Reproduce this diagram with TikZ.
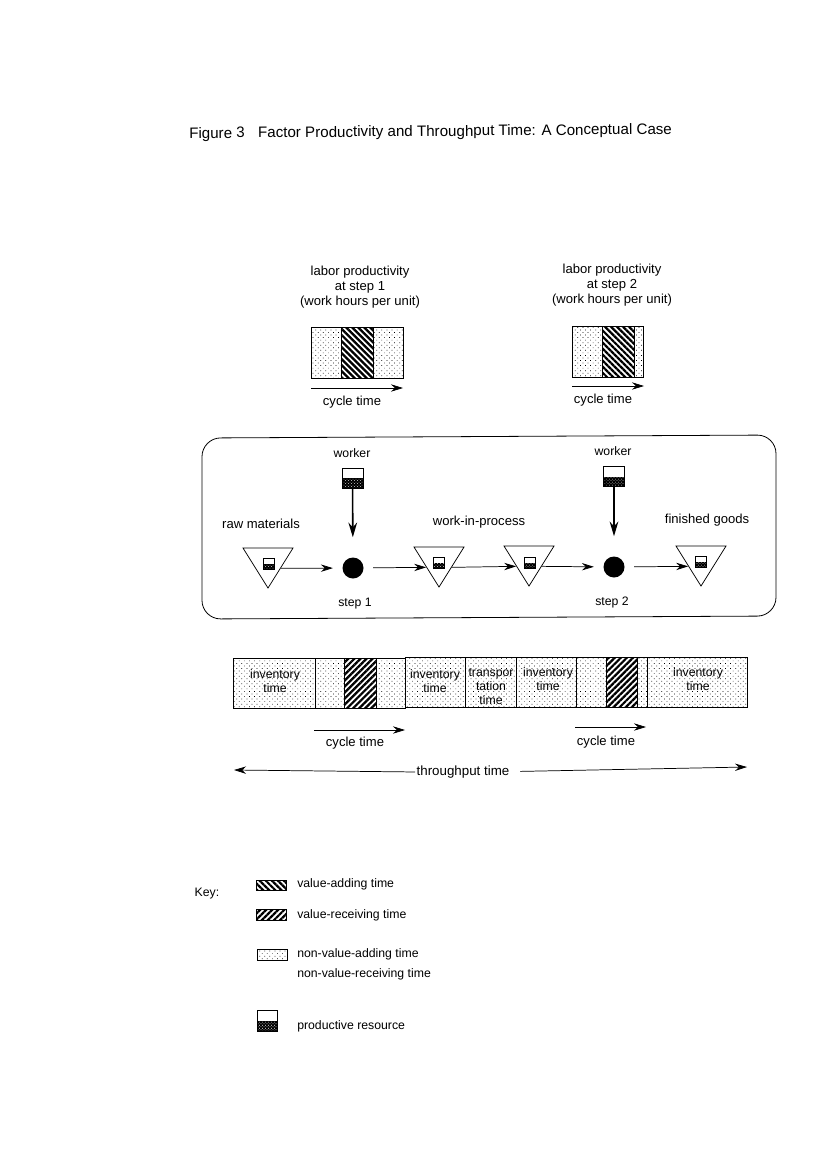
\documentclass[tikz,border=0pt]{standalone}
\usepackage{fontspec}
\setmainfont{Liberation Sans}
\usetikzlibrary{arrows.meta,patterns.meta,shapes.geometric}
\tikzset{
  every node/.style={font=\fontsize{9.2}{10.8}\selectfont, align=center},
  wide/.style={font=\fontsize{9.8}{11}\selectfont},
  flow/.style={-{Stealth[length=9pt,width=5.5pt]}, line width=.55pt},
  feed/.style={-{Stealth[length=11pt,width=6.5pt]}, line width=1.2pt, shorten >=15pt},
  idle/.style={draw, line width=.7pt, pattern={Dots[radius=.38pt,distance=2.7pt,angle=45]}},
  adding/.style={draw, line width=.7pt, pattern={Lines[angle=-45,distance=3.2pt,line width=1.7pt]}},
  receiving/.style={draw, line width=.7pt, pattern={Lines[angle=45,distance=3.2pt,line width=1.7pt]}},
  resource/.style={draw, inner sep=0pt, line width=.7pt, path picture={
      \fill[black] (path picture bounding box.west) rectangle (path picture bounding box.south east);
      \fill[white, pattern color=white, pattern={Dots[radius=.35pt,distance=1.6pt,angle=45]}]
        (path picture bounding box.west) rectangle (path picture bounding box.south east);}},
  bigres/.style={resource, minimum width=15.75pt, minimum height=15pt},
  smallres/.style={resource, minimum width=8.25pt, minimum height=8.25pt},
  stock/.style={draw, shape=isosceles triangle, isosceles triangle stretches, shape border rotate=-90,
      anchor=apex, inner sep=0pt, minimum width=37.5pt, minimum height=30pt, line width=.55pt},
  stepdot/.style={circle, fill=black, inner sep=0pt, minimum size=15.75pt},
}
\begin{document}
\begin{tikzpicture}[x=.75pt, y=-.75pt]
  \useasboundingbox (0,0) rectangle (827,1170);

  \node [anchor=west, inner sep=0pt, rotate=.5, font=\fontsize{11.35}{13}\selectfont] (title) at (189,134.5)
    {Figure 3\hspace{10pt}Factor Productivity and Throughput Time: A Conceptual Case};

  % labor productivity bars
  \node [wide] (laborA) at (360,287) {labor productivity\\at step 1\\(work hours per unit)};
  \node [wide] (laborB) at (612,285) {labor productivity\\at step 2\\(work hours per unit)};
  \draw [idle] (311,327) rectangle (341,378);
  \draw [adding] (341,327) rectangle (373,378);
  \draw [idle] (373,327) rectangle (403,378);
  \draw [idle] (572,326) rectangle (602,377);
  \draw [adding] (602,326) rectangle (634,377);
  \draw [idle] (634,326) rectangle (643,377);
  \coordinate (cycA1) at (311,388);
  \coordinate (cycA2) at (403,388);
  \coordinate (cycB1) at (572,386);
  \coordinate (cycB2) at (644,386);
  \draw [flow] (cycA1) -- (cycA2);
  \draw [flow] (cycB1) -- (cycB2);
  \node [wide] (cycAtext) at (352,402.5) {cycle time};
  \node [wide] (cycBtext) at (603,400.5) {cycle time};

  % process box
  \draw [rounded corners=14pt, line width=.6pt] (202,438) -- (776,435) -- (776,616) -- (202,619) -- cycle;
  \node (workerAtext) at (352,453) {worker};
  \node (workerBtext) at (613,451) {worker};
  \node [bigres] (workerA) at (352.5,478) {};
  \node [bigres] (workerB) at (614,476.5) {};
  \node [stepdot] (stepA) at (353,568) {};
  \node [stepdot] (stepB) at (614,567) {};
  \node [stock] (raw) at (268,589) {};
  \node [stock] (wipA) at (439,588) {};
  \node [stock] (wipB) at (529,587) {};
  \node [stock] (goods) at (701,587) {};
  \node [smallres] (rawres) at (268.5,563.5) {};
  \node [smallres] (wipAres) at (439,563) {};
  \node [smallres] (wipBres) at (529.5,562.5) {};
  \node [smallres] (goodsres) at (701,562) {};
  \draw [feed] (workerA) -- (stepA);
  \draw [feed] (workerB) -- (stepB);
  \draw [flow, shorten >=7pt] (raw.left side) -- (stepA);
  \draw [flow, shorten <=7pt] (stepA) -- (wipA.right side);
  \draw [flow] (wipA.left side) -- (wipB.right side);
  \draw [flow, shorten >=7pt] (wipB.left side) -- (stepB);
  \draw [flow, shorten <=7pt] (stepB) -- (goods.right side);
  \node [wide] (rawtext) at (261,523.5) {raw materials};
  \node [wide] (wiptext) at (479,522) {work-in-process};
  \node [wide] (goodstext) at (707,520.5) {finished goods};
  \node (stepAtext) at (355,604) {step 1};
  \node (stepBtext) at (612,602) {step 2};

  % throughput bar
  \draw [idle] (233,658) rectangle (315,708);
  \draw [idle] (315,658) rectangle (344,708);
  \draw [receiving] (344,658) rectangle (376,708);
  \draw [idle] (376,658) rectangle (405,708);
  \draw [idle] (405,657.5) rectangle (465,707.5);
  \draw [idle] (465,657.5) rectangle (516,707.5);
  \draw [idle] (516,657) rectangle (576,707);
  \draw [idle] (576,657) rectangle (606,707);
  \draw [receiving] (606,657) rectangle (637,707);
  \draw [idle] (637,657) rectangle (647,707);
  \draw [idle] (647,657) rectangle (747,707);
  \node (invA) at (275,681) {inventory\\time};
  \node (invB) at (435,681) {inventory\\time};
  \node (trans) at (491,686.5) {transpor\\tation\\time};
  \node (invC) at (548,679) {inventory\\time};
  \node (invD) at (698,679) {inventory\\time};
  \coordinate (cycC1) at (314,730);
  \coordinate (cycC2) at (405,730);
  \coordinate (cycD1) at (575,727);
  \coordinate (cycD2) at (646,727);
  \draw [flow] (cycC1) -- (cycC2);
  \draw [flow] (cycD1) -- (cycD2);
  \node [wide] (cycCtext) at (355,743.5) {cycle time};
  \node [wide] (cycDtext) at (606,742.5) {cycle time};
  \node [inner xsep=1pt, font=\fontsize{10}{12}\selectfont] (thru) at (463,772.5) {throughput time};
  \coordinate (thruL) at (234,770);
  \coordinate (thruR) at (747,767);
  \draw [flow] (thru) -- (thruL);
  \draw [flow, shorten <=7pt] (thru) -- (thruR);

  % key
  \node (keytext) at (207,894) {Key:};
  \draw [adding] (256,880) rectangle (286,890);
  \draw [receiving] (256,909) rectangle (286,920);
  \draw [idle] (257,949) rectangle (287,960);
  \node [bigres, minimum width=15pt, minimum height=15.75pt] (keyres) at (267,1020.5) {};
  \node [anchor=west, inner sep=0pt] (keyA) at (297,884.5) {value-adding time};
  \node [anchor=west, inner sep=0pt] (keyB) at (297,915) {value-receiving time};
  \node [anchor=west, inner sep=0pt] (keyC) at (297,954.5) {non-value-adding time};
  \node [anchor=west, inner sep=0pt] (keyD) at (297,974.5) {non-value-receiving time};
  \node [anchor=west, inner sep=0pt] (keyE) at (297,1026) {productive resource};
\end{tikzpicture}
\end{document}
